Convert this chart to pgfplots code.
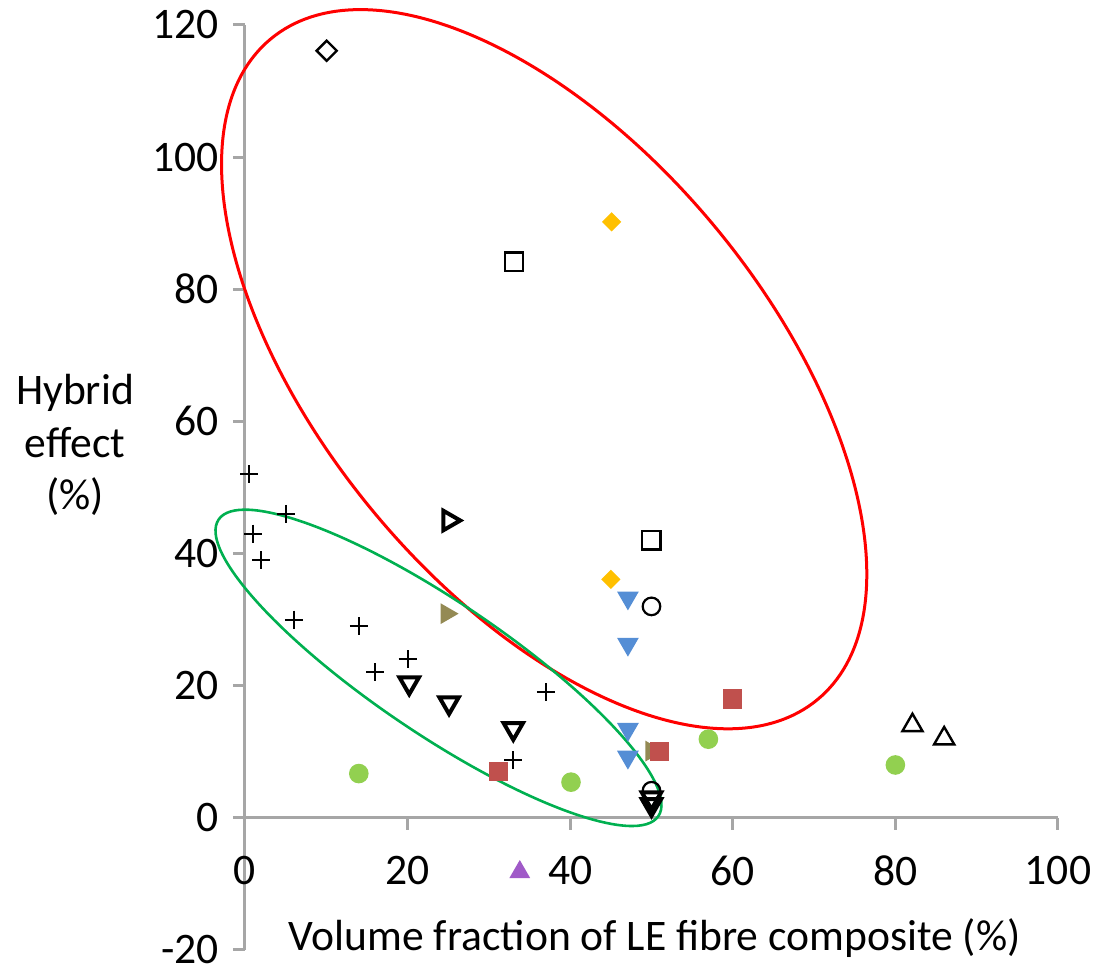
\documentclass[border=0pt]{standalone}
\usepackage{fontspec}
\setmainfont{Carlito}
\usepackage{pgfplots}
\pgfplotsset{compat=1.18}
\usetikzlibrary{calc}

\definecolor{axisgray}{HTML}{A6A6A6}
\definecolor{xlblue}{HTML}{558ED5}
\definecolor{xlolive}{HTML}{948A54}
\definecolor{xlred}{HTML}{C0504D}
\definecolor{xlgreen}{HTML}{92D050}
\definecolor{xlgold}{HTML}{FFC000}
\definecolor{xlpurple}{RGB}{160,90,200}
\definecolor{ringgreen}{HTML}{00B050}

\begin{document}
\begin{tikzpicture}
\begin{axis}[
    width=203.25pt, height=231.25pt, scale only axis,
    xmin=0, xmax=100, ymin=-20, ymax=120,
    axis x line=middle, axis y line=left,
    axis line style={-, draw=axisgray, line width=0.75pt},
    tick align=outside, major tick length=3pt,
    tick style={draw=axisgray, line width=0.75pt},
    xtick={0,20,...,100}, ytick={-20,0,...,120},
    hide obscured x ticks=false, hide obscured y ticks=false,
    /pgf/number format/assume math mode=true,
    tick label style={font=\fontsize{10.9}{12}\selectfont},
    xticklabel style={anchor=north, yshift=-3pt, inner xsep=0pt},
    yticklabel style={inner ysep=0pt},
    xlabel={Volume fraction of LE fibre composite (\%)},
    xlabel style={at={(axis description cs:0.504,0.013)}, anchor=center, inner ysep=1pt, font=\fontsize{10.9}{12}\selectfont},
    ylabel={Hybrid\\effect\\(\%)},
    ylabel style={rotate=-90, at={(axis description cs:-0.209,0.546)}, anchor=center, align=center, font=\fontsize{10.9}{13.1}\selectfont},
    clip=false,
]
% crosses
\addplot[only marks, mark=+, mark size=2.25pt, mark options={line width=0.5pt, black}]
  coordinates {(0.5,52) (1,43) (2,39) (5,46) (6,30) (14,29) (16,22) (20,24) (37,19) (33,8.7)};
% open down triangles (thick)
\addplot[only marks, mark=triangle, mark size=2.8pt, mark options={rotate=180, line width=1pt, black}]
  coordinates {(20.2,20.4) (25.1,17.4) (33,13.5) (50,3) (50,2)};
% open right triangle (thick)
\addplot[only marks, mark=triangle, mark size=2.8pt, mark options={rotate=-90, line width=1pt, black}]
  coordinates {(25.1,45)};
% olive right triangles
\addplot[only marks, mark=triangle*, mark size=2.6pt, mark options={rotate=-90, draw=xlolive, fill=xlolive}]
  coordinates {(24.8,30.9) (50,10.1)};
% blue down triangles
\addplot[only marks, mark=triangle*, mark size=2.75pt, mark options={rotate=180, draw=xlblue, fill=xlblue}]
  coordinates {(47.1,33.3) (47.1,26.3) (47.1,13.4) (47.1,9.2)};
% gold diamonds
\addplot[only marks, mark=square*, mark size=1.5pt, mark options={rotate=45, draw=xlgold, fill=xlgold}]
  coordinates {(45.1,90.2) (45,36.1)};
% open squares
\addplot[only marks, mark=square, mark size=2.3pt, mark options={line width=0.6pt, black}]
  coordinates {(33.1,84.2) (50,42)};
% open circles
\addplot[only marks, mark=o, mark size=2.2pt, mark options={line width=0.55pt, black}]
  coordinates {(50,32) (50,4.1)};
% open diamond
\addplot[only marks, mark=square, mark size=1.77pt, mark options={rotate=45, line width=0.6pt, black}]
  coordinates {(10.05,116.1)};
% red squares
\addplot[only marks, mark=square*, mark size=2.2pt, mark options={draw=xlred, fill=xlred}]
  coordinates {(60,18) (51,10) (31.2,7)};
% green circles
\addplot[only marks, mark=*, mark size=2.25pt, mark options={draw=xlgreen, fill=xlgreen}]
  coordinates {(14,6.7) (40.1,5.4) (57,11.9) (80,8)};
% open up triangles
\addplot[only marks, mark=triangle, mark size=2.9pt, mark options={line width=0.6pt, black}]
  coordinates {(82.1,14) (86,12)};
% purple triangle
\addplot[only marks, mark=triangle*, mark size=2.6pt, mark options={draw=xlpurple, fill=xlpurple}]
  coordinates {(33.8,-8.2)};
% group outlines
\draw[overlay, red, line width=0.75pt, rotate around={-50.4:(axis cs:36.8,67.9)}]
  (axis cs:36.8,67.9) ellipse [x radius=107.2pt, y radius=55.6pt];
\draw[overlay, ringgreen, line width=0.65pt, rotate around={-34:(axis cs:23.8,22.7)}]
  (axis cs:23.8,22.7) ellipse [x radius=66.3pt, y radius=16.55pt];
\path ($(axis cs:0,120)+(-61.25pt,6.25pt)$) rectangle ($(axis cs:100,-20)+(9.25pt,-5pt)$);
\end{axis}
\end{tikzpicture}
\end{document}
